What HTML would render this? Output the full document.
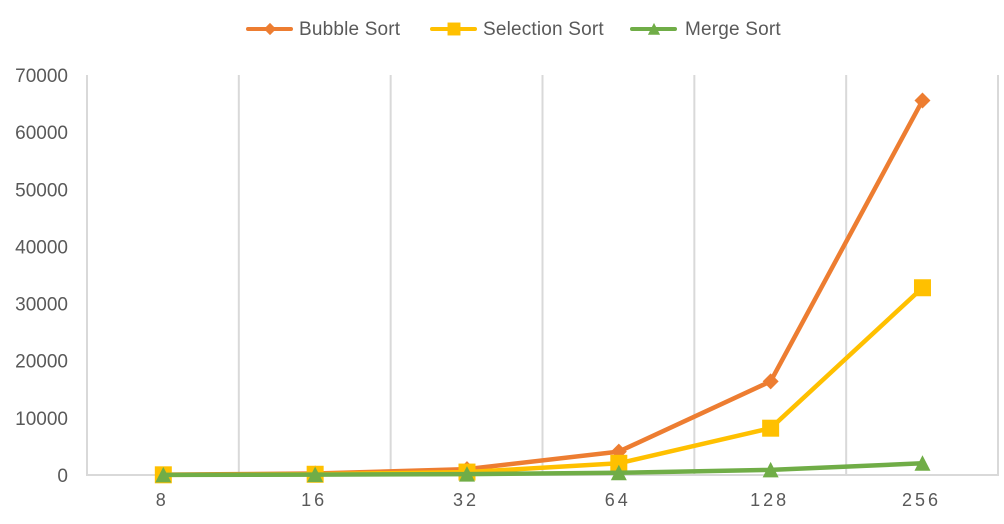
<!DOCTYPE html>
<html>
<head>
<meta charset="utf-8">
<style>
html,body{margin:0;padding:0;background:#fff;width:1004px;height:524px;overflow:hidden}
svg{display:block}
text{font-family:"Liberation Sans",sans-serif;fill:#595959}
</style>
</head>
<body>
<svg id="chart" width="1004" height="524" viewBox="0 0 1004 524" xmlns="http://www.w3.org/2000/svg">
  <g id="grid"></g>
  <g id="yaxis"></g>
  <g id="xaxis"></g>
  <g id="series"></g>
  <g id="legend"></g>
</svg>
<script>
const categories = ['8', '16', '32', '64', '128', '256'];
const yTicks = [0, 10000, 20000, 30000, 40000, 50000, 60000, 70000];
const bubbleSort = [64, 256, 1024, 4096, 16384, 65536];
const selectionSort = [32, 128, 512, 2048, 8192, 32768];
const mergeSort = [24, 64, 160, 384, 896, 2048];
const yMax = 70000;

const NS = 'http://www.w3.org/2000/svg';
const plotLeft = 87, plotRight = 998, plotTop = 75, plotBottom = 475;
const band = (plotRight - plotLeft) / categories.length;
function xPos(i) { return plotLeft + band * (i + 0.5) + 0.4; }
function yPos(v) { return plotBottom - (v / yMax) * (plotBottom - plotTop); }
function make(tag, attrs, parent) {
  const el = document.createElementNS(NS, tag);
  for (const k in attrs) el.setAttribute(k, attrs[k]);
  parent.appendChild(el);
  return el;
}
function drawMarker(kind, x, y, color, parent) {
  let el;
  if (kind === 'diamond') {
    el = make('polygon', {points: [x, y - 8, x + 8, y, x, y + 8, x - 8, y].join(','), fill: color}, parent);
  } else if (kind === 'square') {
    el = make('rect', {x: x - 8.5, y: y - 8.5, width: 17, height: 17, fill: color}, parent);
  } else {
    el = make('polygon', {points: [x, y - 8, x + 8, y + 7.5, x - 8, y + 7.5].join(','), fill: color}, parent);
  }
  return el;
}

const grid = document.getElementById('grid');
for (let i = 0; i <= categories.length; i++) {
  const gx = plotLeft + band * i;
  const gl = make('line', {x1: gx, x2: gx, y1: plotTop, y2: plotBottom, stroke: '#d9d9d9', 'stroke-width': 2}, grid);
  
  
}
const axisLine = make('line', {x1: plotLeft - 1, x2: plotRight + 1, y1: plotBottom, y2: plotBottom, stroke: '#d9d9d9', 'stroke-width': 2}, grid);



const yaxis = document.getElementById('yaxis');
yTicks.forEach(function (t) {
  const label = make('text', {x: 68, y: yPos(t) + 7, 'text-anchor': 'end', 'font-size': 19}, yaxis);
  label.textContent = String(t);
  
  
});

const xaxis = document.getElementById('xaxis');
categories.forEach(function (c, i) {
  const label = make('text', {x: xPos(i) - 1, y: 506, 'text-anchor': 'middle', 'font-size': 18, 'letter-spacing': 3}, xaxis);
  label.textContent = c;
  
  
});

const seriesRoot = document.getElementById('series');
function drawSeries(values, color, kind, name) {
  const g = make('g', {}, seriesRoot);
  
  
  const pts = values.map(function (v, i) { return xPos(i) + ',' + yPos(v); }).join(' ');
  const line = make('polyline', {points: pts, fill: 'none', stroke: color, 'stroke-width': 4.5, 'stroke-linejoin': 'round', 'stroke-linecap': 'round'}, g);
  
  
  values.forEach(function (v, i) {
    const m = drawMarker(kind, xPos(i), yPos(v), color, g);
    
    
  });
}
drawSeries(bubbleSort, '#ed7d31', 'diamond', 'bubble-sort-series');
drawSeries(selectionSort, '#ffc000', 'square', 'selection-sort-series');
drawSeries(mergeSort, '#70ad47', 'triangle', 'merge-sort-series');

const legendRoot = document.getElementById('legend');
function drawLegend(x1, textX, label, color, kind, name) {
  const g = make('g', {}, legendRoot);
  
  
  make('line', {x1: x1, x2: x1 + 43, y1: 29, y2: 29, stroke: color, 'stroke-width': 4, 'stroke-linecap': 'round'}, g);
  const mg = make('g', {transform: 'translate(' + (x1 + 22) + ' 29) scale(0.76)'}, g);
  drawMarker(kind, 0, 0, color, mg);
  const t = make('text', {x: textX, y: 35, 'font-size': 19, 'letter-spacing': 0.18}, g);
  t.textContent = label;
}
drawLegend(248, 299, 'Bubble Sort', '#ed7d31', 'diamond', 'legend-entry-bubble-sort');
drawLegend(432, 483, 'Selection Sort', '#ffc000', 'square', 'legend-entry-selection-sort');
drawLegend(632, 685, 'Merge Sort', '#70ad47', 'triangle', 'legend-entry-merge-sort');
</script>
</body>
</html>
